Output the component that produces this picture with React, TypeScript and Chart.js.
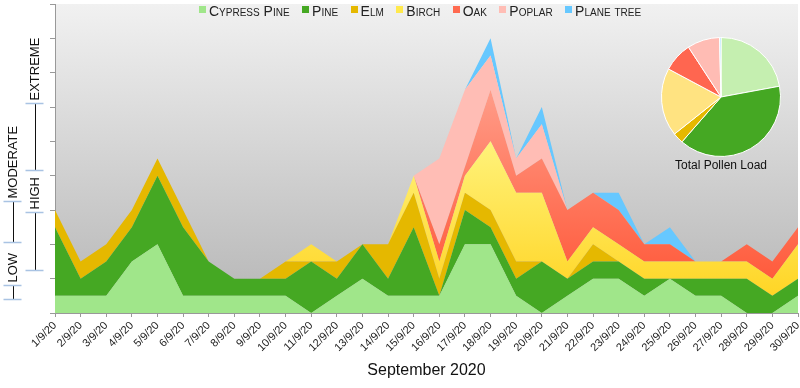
import React, { useEffect, useRef } from 'react';
import { Chart, registerables } from 'chart.js';

Chart.register(...registerables);

// ---------- data ----------
const DATES = [
  '1/9/20', '2/9/20', '3/9/20', '4/9/20', '5/9/20', '6/9/20', '7/9/20', '8/9/20', '9/9/20', '10/9/20',
  '11/9/20', '12/9/20', '13/9/20', '14/9/20', '15/9/20', '16/9/20', '17/9/20', '18/9/20', '19/9/20', '20/9/20',
  '21/9/20', '22/9/20', '23/9/20', '24/9/20', '25/9/20', '26/9/20', '27/9/20', '28/9/20', '29/9/20', '30/9/20',
];

const SERIES_NAMES = ['Cypress Pine', 'Pine', 'Elm', 'Birch', 'Oak', 'Poplar', 'Plane tree'];

const CYPRESS_PINE = [1, 1, 1, 3, 4, 1, 1, 1, 1, 1, 0, 1, 2, 1, 1, 1, 4, 4, 1, 0, 1, 2, 2, 1, 2, 1, 1, 0, 0, 1];
const PINE = [4, 1, 2, 2, 4, 4, 2, 1, 1, 1, 3, 1, 2, 1, 4, 0, 2, 1, 1, 3, 1, 1, 1, 1, 0, 1, 1, 2, 1, 1];
const ELM = [1, 1, 1, 1, 1, 1, 0, 0, 0, 1, 0, 1, 0, 2, 2, 1, 1, 1, 1, 0, 0, 1, 0, 0, 0, 0, 0, 0, 0, 0];
const BIRCH = [0, 0, 0, 0, 0, 0, 0, 0, 0, 0, 1, 0, 0, 0, 1, 1, 1, 4, 4, 4, 1, 1, 1, 1, 1, 1, 1, 1, 1, 2];
const OAK = [0, 0, 0, 0, 0, 0, 0, 0, 0, 0, 0, 0, 0, 0, 0, 1, 0.5, 3, 1, 2, 3, 2, 2, 1, 1, 0, 0, 1, 1, 1];
const POPLAR = [0, 0, 0, 0, 0, 0, 0, 0, 0, 0, 0, 0, 0, 0, 0, 5, 4.5, 2, 1, 2, 0, 0, 0, 0, 0, 0, 0, 0, 0, 0];
const PLANE_TREE = [0, 0, 0, 0, 0, 0, 0, 0, 0, 0, 0, 0, 0, 0, 0, 0, 0, 1, 0, 1, 0, 0, 1, 0, 1, 0, 0, 0, 0, 0];

// share of the total pollen load (pie), percent
const PIE_VALUES = [22.1, 39.3, 2.9, 18.5, 8.0, 8.8, 0.4];

// pollen level brackets on the left (in y-axis units)
const LEVEL_LABELS = ['LOW', 'MODERATE', 'HIGH', 'EXTREME'];
const LEVEL_FROM = [0.79, 4.13, 2.53, 8.35];
const LEVEL_TO = [1.62, 6.55, 5.9, 12.25];
const LEVEL_COLUMN = [0, 0, 1, 1];

const Y_MAX = 18;
const Y_STEP = 2;

// ---------- styles ----------
const AREA_COLORS = ['#a0e68a', '#45a823', '#e5b800', 'birch', 'oak', '#ffbdb5', '#66c8ff'];
const LEGEND_COLORS = ['#a0e68a', '#45a823', '#e5b800', '#ffe94d', '#ff6a50', '#ffbdb5', '#66c8ff'];
const PIE_COLORS = ['#c5efb0', '#45a823', '#e5b800', '#ffe381', '#ff6650', '#ffbcb4', '#99dcff'];
const FONT = 'Arial, "Liberation Sans", Helvetica, sans-serif';

function gradientFill(kind: string) {
  return (ctx: any) => {
    const chart = ctx.chart;
    const area = chart.chartArea;
    if (!area) return kind === 'birch' ? '#ffe94d' : '#ff7a60';
    const g = chart.ctx.createLinearGradient(0, area.top, 0, area.bottom);
    if (kind === 'birch') {
      g.addColorStop(0, '#fffcb0');
      g.addColorStop(0.45, '#fff27a');
      g.addColorStop(1, '#ffd21c');
    } else {
      g.addColorStop(0, '#ffb8a8');
      g.addColorStop(0.3, '#ff9a86');
      g.addColorStop(1, '#ff4f2e');
    }
    return g;
  };
}

const bgPlugin = {
  id: 'plotBackground',
  beforeDraw(chart: any) {
    const { ctx, chartArea } = chart;
    if (!chartArea) return;
    const g = ctx.createLinearGradient(0, chartArea.top, 0, chartArea.bottom);
    g.addColorStop(0, '#f1f1f1');
    g.addColorStop(1, '#b5b5b5');
    ctx.save();
    ctx.fillStyle = g;
    ctx.fillRect(chartArea.left, chartArea.top, chartArea.right - chartArea.left, chartArea.bottom - chartArea.top);
    ctx.restore();
  },
};

const levelsPlugin = {
  id: 'levels',
  afterDraw(chart: any) {
    const { ctx } = chart;
    const y = chart.scales.y;
    const colX = [12.5, 34.5];
    ctx.save();
    for (let i = 0; i < LEVEL_LABELS.length; i++) {
      const x = colX[LEVEL_COLUMN[i]];
      const yTop = Math.round(y.getPixelForValue(LEVEL_TO[i])) + 0.5;
      const yBot = Math.round(y.getPixelForValue(LEVEL_FROM[i])) + 0.5;
      ctx.strokeStyle = '#111';
      ctx.lineWidth = 1;
      ctx.beginPath();
      ctx.moveTo(Math.round(x) + 0.5, yTop);
      ctx.lineTo(Math.round(x) + 0.5, yBot);
      ctx.stroke();
      ctx.strokeStyle = '#a9c3e3';
      ctx.lineWidth = 1.5;
      ctx.beginPath();
      ctx.moveTo(x - 9, yTop);
      ctx.lineTo(x + 9, yTop);
      ctx.moveTo(x - 9, yBot);
      ctx.lineTo(x + 9, yBot);
      ctx.stroke();
      ctx.save();
      ctx.translate(x + 0.5, yTop - 3);
      ctx.rotate(-Math.PI / 2);
      ctx.fillStyle = '#111';
      ctx.font = '13px ' + FONT;
      ctx.textAlign = 'left';
      ctx.textBaseline = 'middle';
      ctx.fillText(LEVEL_LABELS[i], 0, 0);
      ctx.restore();
    }
    ctx.restore();
  },
};

export default function App() {
  const mainRef = useRef<HTMLCanvasElement | null>(null);
  const pieRef = useRef<HTMLCanvasElement | null>(null);

  useEffect(() => {
    document.body.style.margin = '0';
    const seriesData = [CYPRESS_PINE, PINE, ELM, BIRCH, OAK, POPLAR, PLANE_TREE];
    const datasets = SERIES_NAMES.map((name, i) => ({
      label: name,
      data: seriesData[i],
      backgroundColor:
        AREA_COLORS[i] === 'birch' || AREA_COLORS[i] === 'oak' ? gradientFill(AREA_COLORS[i]) : AREA_COLORS[i],
      borderWidth: 0,
      pointRadius: 0,
      tension: 0,
      fill: i === 0 ? 'origin' : '-1',
    }));

    const main = new Chart(mainRef.current as HTMLCanvasElement, {
      type: 'line',
      data: { labels: DATES, datasets: datasets as any },
      options: {
        animation: false,
        responsive: false,
        maintainAspectRatio: false,
        layout: { padding: { top: 4, right: 2, left: 0, bottom: 0 } },
        plugins: { legend: { display: false }, tooltip: { enabled: false } },
        scales: {
          x: {
            offset: false,
            grid: { drawOnChartArea: false, drawTicks: true, tickLength: 4, color: '#999' },
            border: { color: '#999' },
            ticks: {
              autoSkip: false,
              maxRotation: 45,
              minRotation: 45,
              padding: 2,
              color: '#222',
              font: { family: FONT, size: 11 },
            },
            title: {
              display: true,
              text: 'September 2020',
              color: '#111',
              font: { family: FONT, size: 16 },
              padding: { top: 2, bottom: 8 },
            },
            afterFit(scale: any) {
              scale.height = 75;
              scale.paddingLeft = 0;
              scale.paddingRight = 0;
            },
          },
          y: {
            stacked: true,
            min: 0,
            max: Y_MAX,
            ticks: { stepSize: Y_STEP, display: false },
            grid: { drawOnChartArea: false, drawTicks: true, tickLength: 5, color: '#999' },
            border: { color: '#999' },
            afterFit(scale: any) {
              scale.width = 55;
              scale.paddingTop = 0;
              scale.paddingBottom = 0;
            },
          },
        },
      },
      plugins: [bgPlugin, levelsPlugin],
    });

    const pie = new Chart(pieRef.current as HTMLCanvasElement, {
      type: 'pie',
      data: {
        labels: SERIES_NAMES,
        datasets: [{ data: PIE_VALUES, backgroundColor: PIE_COLORS, borderColor: '#ffffff', borderWidth: 1 }],
      },
      options: {
        animation: false,
        responsive: false,
        maintainAspectRatio: false,
        layout: { padding: 0 },
        plugins: { legend: { display: false }, tooltip: { enabled: false } },
      },
    });

    return () => {
      main.destroy();
      pie.destroy();
    };
  }, []);

  return (
    <div style={{ position: 'relative', width: 800, height: 388, overflow: 'hidden', fontFamily: FONT }}>
      <canvas ref={mainRef} width={800} height={388} style={{ display: 'block', width: 800, height: 388 }} />
      <div
        style={{
          position: 'absolute',
          left: 199,
          top: 3,
          display: 'flex',
          alignItems: 'center',
          gap: 12.5,
          whiteSpace: 'nowrap',
        }}
      >
        {SERIES_NAMES.map((name, i) => (
          <div key={name} style={{ display: 'flex', alignItems: 'flex-start' }}>
            <span
              style={{
                display: 'inline-block',
                width: 7,
                height: 7,
                marginTop: 3,
                marginRight: 3,
                background: LEGEND_COLORS[i],
              }}
            />
            <span
              style={{
                fontSize: 14,
                lineHeight: '16px',
                fontVariant: 'small-caps',
                color: '#222',
              }}
            >
              {name}
            </span>
          </div>
        ))}
      </div>
      <canvas
        ref={pieRef}
        width={120}
        height={120}
        style={{ position: 'absolute', left: 661, top: 37, width: 120, height: 120 }}
      />
      <div
        style={{
          position: 'absolute',
          left: 660,
          top: 157,
          width: 122,
          textAlign: 'center',
          fontSize: 12,
          lineHeight: '16px',
          color: '#111',
        }}
      >
        Total Pollen Load
      </div>
    </div>
  );
}
